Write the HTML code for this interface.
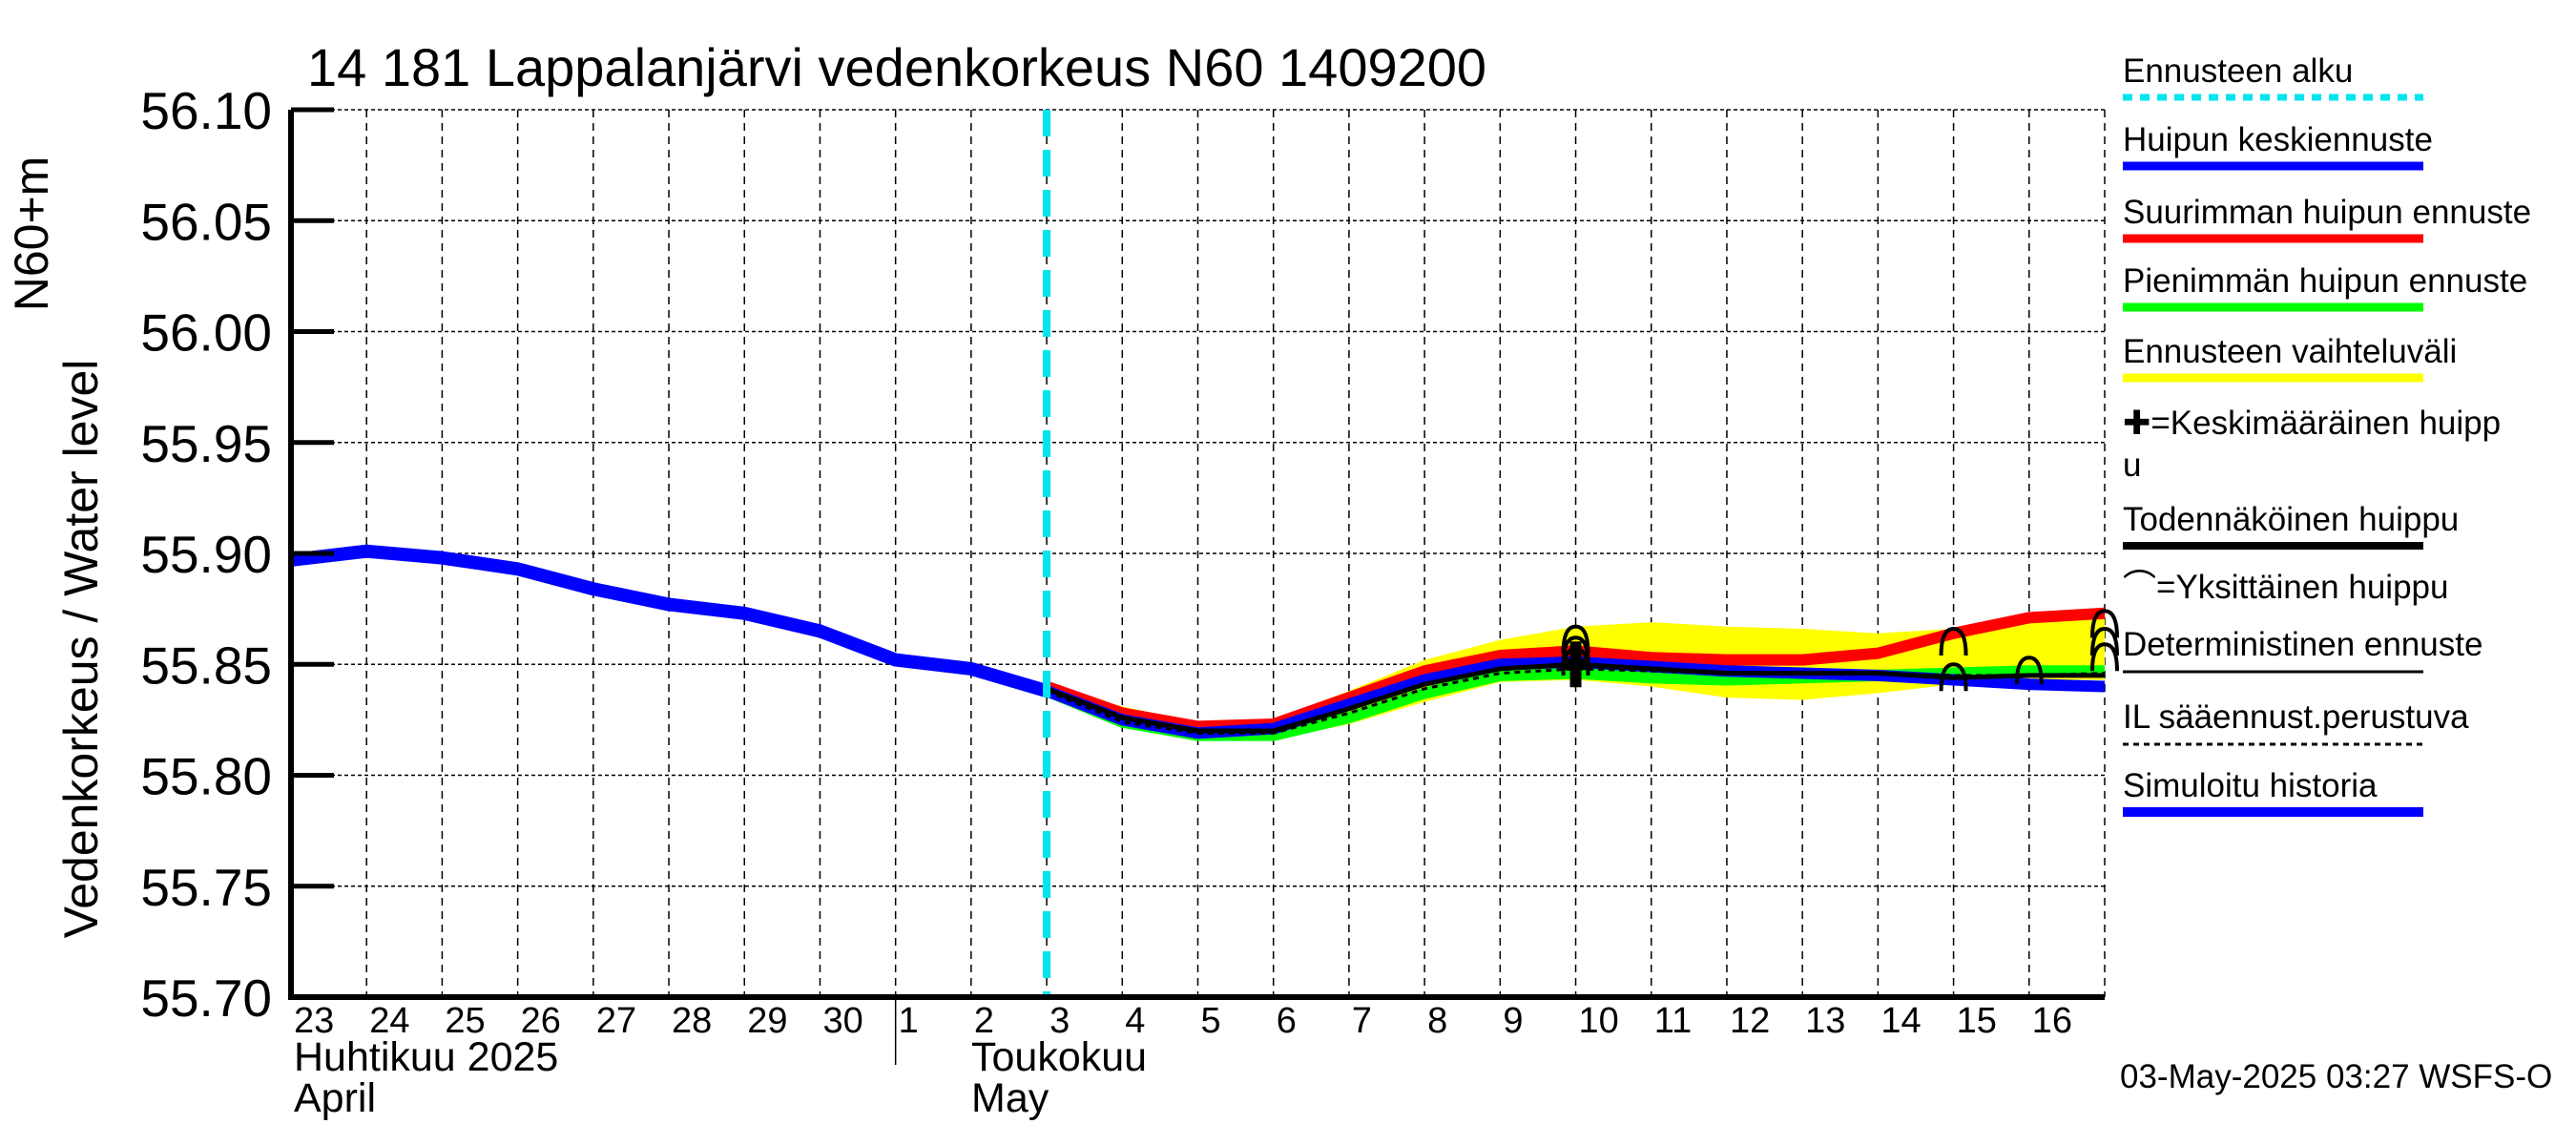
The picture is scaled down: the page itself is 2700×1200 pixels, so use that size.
<!DOCTYPE html>
<html><head><meta charset="utf-8"><style>
html,body{margin:0;padding:0;background:#fff;}
svg{display:block;font-family:"Liberation Sans",Arial,sans-serif;}
</style></head><body>
<svg id="chart" width="2700" height="1200" viewBox="0 0 2700 1200" xmlns="http://www.w3.org/2000/svg">
<text x="322" y="90" font-size="56">14 181 Lappalanjärvi vedenkorkeus N60 1409200</text>
<text transform="translate(102,680) rotate(-90)" text-anchor="middle" font-size="50">Vedenkorkeus / Water level</text>
<text transform="translate(50,245) rotate(-90)" text-anchor="middle" font-size="50">N60+m</text>
<g id="grid"></g><g id="series"></g><g id="axes"></g><g id="legend"></g>
<text x="308" y="1122" font-size="43">Huhtikuu  2025</text>
<text x="308" y="1165" font-size="43">April</text>
<text x="1018" y="1122" font-size="43">Toukokuu</text>
<text x="1018" y="1165" font-size="43">May</text>
<text x="2222" y="1140" font-size="35">03-May-2025 03:27 WSFS-O</text>
</svg>
<script>
const dayLabels=["23","24","25","26","27","28","29","30","1","2","3","4","5","6","7","8","9","10","11","12","13","14","15","16"];
const yTicks=[55.70,55.75,55.80,55.85,55.90,55.95,56.00,56.05,56.10];
const histDays=[0,1,2,3,4,5,6,7,8,9,10];
const histVals=[55.897,55.901,55.898,55.893,55.884,55.877,55.873,55.865,55.852,55.848,55.838];
const fcDays=[10,11,12,13,14,15,16,17,18,19,20,21,22,23,24];
const blueVals=[55.838,55.825,55.819,55.821,55.832,55.843,55.850,55.851,55.849,55.847,55.846,55.845,55.843,55.841,55.840];
const redVals=[55.840,55.828,55.822,55.823,55.835,55.847,55.854,55.856,55.853,55.852,55.852,55.855,55.864,55.871,55.873];
const greenVals=[55.838,55.824,55.818,55.818,55.826,55.837,55.845,55.846,55.844,55.843,55.844,55.845,55.846,55.847,55.847];
const bandHigh=[55.840,55.831,55.824,55.825,55.838,55.852,55.861,55.867,55.869,55.867,55.866,55.864,55.866,55.870,55.872];
const bandLow=[55.837,55.822,55.817,55.816,55.823,55.833,55.842,55.843,55.840,55.835,55.834,55.837,55.841,55.843,55.843];
const blackVals=[55.839,55.826,55.820,55.820,55.830,55.841,55.848,55.850,55.848,55.846,55.846,55.846,55.844,55.845,55.845];
const dotVals=[55.838,55.824,55.819,55.819,55.828,55.839,55.846,55.848,55.847,55.846,55.846,55.846,55.845,55.845,55.846];
const peakDays=[17,17,17,22,22,23,24,24,24];
const peakVals=[55.861,55.856,55.851,55.860,55.844,55.847,55.868,55.860,55.853];
const meanPeakDays=[17];
const meanPeakVals=[55.850];
const forecastStartDay=10;

const NS="http://www.w3.org/2000/svg";
const X0=305,X1=2206,Y0=1045,Y1=115,VMIN=55.70,VMAX=56.10,NDAYS=24;
function xs(d){return X0+(X1-X0)*d/NDAYS;}
function ys(v){return Y0-(Y0-Y1)*(v-VMIN)/(VMAX-VMIN);}
function mk(tag,attrs,parent){const e=document.createElementNS(NS,tag);for(const k in attrs)e.setAttribute(k,attrs[k]);parent.appendChild(e);return e;}
const grid=document.getElementById('grid'),series=document.getElementById('series'),axes=document.getElementById('axes'),legend=document.getElementById('legend');

for(let i=1;i<=NDAYS;i++){const l=mk('line',{x1:xs(i),x2:xs(i),y1:Y1,y2:Y0,stroke:'#000','stroke-width':1.5,'stroke-dasharray':'8,6'},grid);

}
yTicks.forEach(v=>{const l=mk('line',{x1:X0,x2:X1,y1:ys(v),y2:ys(v),stroke:'#000','stroke-width':1.5,'stroke-dasharray':'4,3'},grid);


const t=mk('line',{x1:X0,x2:X0+45,y1:ys(v),y2:ys(v),stroke:'#000','stroke-width':5},axes);


const tx=mk('text',{x:X0-20,y:ys(v)+20,'text-anchor':'end','font-size':55},axes);tx.textContent=v.toFixed(2);

});

function pts(days,vals){return days.map((d,i)=>xs(d)+','+ys(vals[i])).join(' ');}
const band=mk('polygon',{points:pts(fcDays,bandHigh)+' '+pts(fcDays.slice().reverse(),bandLow.slice().reverse()),fill:'#ffff00'},series);


function line(days,vals,color,w,name,dash){const p=mk('polyline',{points:pts(days,vals),fill:'none',stroke:color,'stroke-width':w,'stroke-linejoin':'round'},series);if(dash)p.setAttribute('stroke-dasharray',dash);

}
line(fcDays,greenVals,'#00ff00',12,'min-peak-forecast-line');
line(fcDays,redVals,'#ff0000',12,'max-peak-forecast-line');
line(fcDays,blueVals,'#0000ff',12,'mean-peak-forecast-line');
line(histDays,histVals,'#0000ff',14,'simulated-history-line');
line(fcDays,blackVals,'#000',5,'probable-peak-line');
line(fcDays,dotVals,'#000',3,'weather-forecast-line','6,5');
peakDays.forEach((d,i)=>{const x=xs(d),y=ys(peakVals[i]);const a=mk('path',{d:`M${x-13},${y+14} Q${x-13},${y-14} ${x},${y-14} Q${x+13},${y-14} ${x+13},${y+14}`,fill:'none',stroke:'#000','stroke-width':4},series);

});
meanPeakDays.forEach((d,i)=>{const x=xs(d),y=ys(meanPeakVals[i]);const g=mk('path',{d:`M${x-14},${y} H${x+14} M${x},${y-24} V${y+24}`,stroke:'#000','stroke-width':12},series);

});
const fs=mk('line',{x1:xs(forecastStartDay),x2:xs(forecastStartDay),y1:Y1,y2:Y0,stroke:'#00e5ee','stroke-width':8,'stroke-dasharray':'28,14'},series);



const ax=mk('path',{d:`M${X0},${Y1} V${Y0} H${X1}`,fill:'none',stroke:'#000','stroke-width':6},axes);


dayLabels.forEach((s,i)=>{const t=mk('text',{x:xs(i)+3,y:1082,'font-size':38},axes);t.textContent=s;

});
const sep=mk('line',{x1:xs(8),x2:xs(8),y1:Y0,y2:1116,stroke:'#000','stroke-width':1.5},axes);



const LX=2225,LX2=2540;
const legItems=[
 ["Ennusteen alku",74,102,'#00e5ee',7,'10,8'],
 ["Huipun keskiennuste",146,174,'#0000ff',9],
 ["Suurimman huipun ennuste",222,250,'#ff0000',9],
 ["Pienimmän huipun ennuste",294,322,'#00ff00',9],
 ["Ennusteen vaihteluväli",368,396,'#ffff00',9],
 ["✚=Keskimääräinen huipp",443,null],
 ["u",487,null],
 ["Todennäköinen huippu",544,572,'#000',8],
 ["⌒=Yksittäinen huippu",615,null],
 ["Deterministinen ennuste",675,704,'#000',3],
 ["IL sääennust.perustuva",751,780,'#000',3,'6,5'],
 ["Simuloitu historia",823,851,'#0000ff',10]];
legItems.forEach(it=>{const t=mk('text',{x:LX,y:it[1]+12,'font-size':35},legend);t.textContent=it[0];


if(it[2]!==null){const l=mk('line',{x1:LX,x2:LX2,y1:it[2],y2:it[2],stroke:it[3],'stroke-width':it[4]},legend);if(it[5])l.setAttribute('stroke-dasharray',it[5]);

}});
</script>
</body></html>
